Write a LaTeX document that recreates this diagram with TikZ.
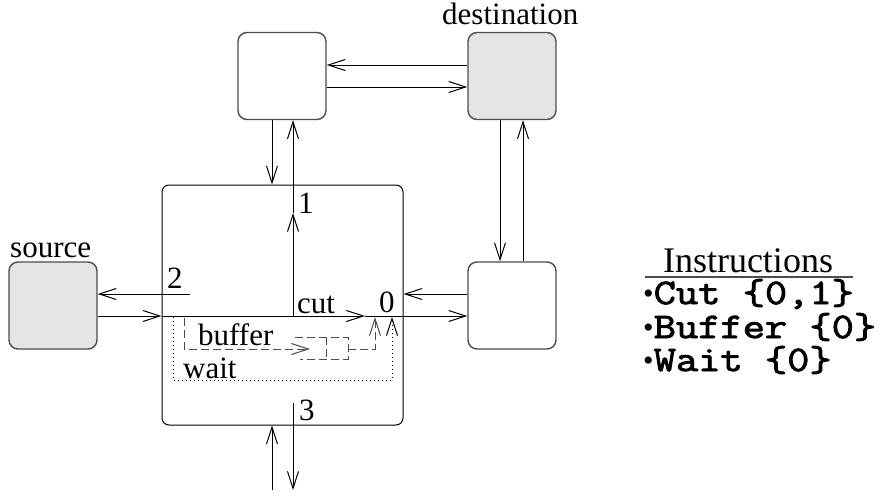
\documentclass[tikz,border=0pt]{standalone}
\usepackage{fontspec}
\setmainfont{Liberation Serif}
\newfontfamily\codefont{Latin Modern Mono}[FakeStretch=1.2, AutoFakeBold=2.5]
\usetikzlibrary{arrows.meta}

\tikzset{
  router/.style={draw=black!70, line width=1.4pt, rounded corners=9pt,
    minimum width=88pt, minimum height=87pt, inner sep=0pt},
  endpoint/.style={router, fill=black!10},
  switchbox/.style={draw=black, line width=1pt, rounded corners=7pt,
    minimum width=241pt, minimum height=240pt, inner sep=0pt},
  link/.style={line width=1pt, -{Straight Barb[length=17pt,width=11pt]}},
  bufline/.style={draw=black!70, line width=1pt, dash pattern=on 8pt off 4pt},
  waitline/.style={draw=black, line width=1pt, dash pattern=on 1pt off 3pt},
  lbl/.style={inner sep=0pt, anchor=base west,
    font=\fontsize{31}{36}\selectfont},
  code/.style={inner sep=0pt, anchor=base west, text height=22pt, text depth=5pt,
    font=\fontsize{36}{40}\selectfont\codefont\bfseries},
}
\newcommand{\listdot}{{\rmfamily\mdseries\fontsize{30}{32}\selectfont\raisebox{1pt}{•}}}

\begin{document}
\begin{tikzpicture}[x=1pt, y=-1pt]
\useasboundingbox (0,0) rectangle (881,496);

% routers and end points
\node[router]    (tl)  at (282,76)    {};
\node[endpoint]  (dst) at (512,76)    {};
\node[router]    (rt)  at (512,305.5) {};
\node[endpoint]  (src) at (53,305.5)  {};
\node[switchbox] (big) at (282.5,305) {};

\node[lbl] (srclbl) at (10,257) {source};
\node[lbl] (dstlbl) at (442,24) {destination};

% reference lines for the parallel links
\coordinate (xa) at (272,0);
\coordinate (xb) at (293,0);
\coordinate (xc) at (500,0);
\coordinate (xd) at (523,0);
\coordinate (yt1) at (0,65);
\coordinate (yt2) at (0,87);
\coordinate (yu) at (0,294);
\coordinate (yl) at (0,316);

% ports of the switch
\coordinate (p1) at (293,213);
\coordinate (pj) at (293,316);
\coordinate (p2) at (190,294);
\coordinate (p3) at (293,403);
\coordinate (b1) at (272,490);
\coordinate (b2) at (293,490);
\coordinate (cuttip) at (365,316);

% links between the routers
\draw[link] (dst.west |- yt1) -- (tl.east |- yt1);
\draw[link] (tl.east |- yt2) -- (dst.west |- yt2);
\draw[link] (dst.south -| xc) -- (rt.north -| xc);
\draw[link] (rt.north -| xd) -- (dst.south -| xd);
\draw[link] (tl.south -| xa) -- (big.north -| xa);
\draw[link] (rt.west |- yu) -- (big.east |- yu);

% port 1
\draw[link] (pj) -- (p1);
\draw[link] (p1) -- (tl.south -| xb);
\node[lbl] (l1) at (298,213) {1};

% port 2 and the source
\draw[link] (p2) -- (src.east |- yu);
\node[lbl] (l2) at (167,288) {2};
\draw[link] (src.east |- yl) -- (big.west |- yl);
\draw[link] (big.west |- yl) -- (cuttip);
\draw[link] (cuttip) -- (rt.west |- yl);

% port 3
\draw[link] (b1) -- (big.south -| b1);
\draw[link] (p3) -- (b2);
\node[lbl] (l3) at (299,420) {3};

% port 0 and the cut path
\node[lbl] (l0) at (379,312) {0};
\node[lbl] (lcut) at (297,313) {cut};

% wait path
\coordinate (w1) at (173,317);
\coordinate (w2) at (173,380);
\coordinate (w3) at (392,380);
\coordinate (w4) at (392,317);
\draw[waitline, link] (w1) -- (w2) -- (w3) -- (w4);
\node[lbl] (lwait) at (183,378) {wait};

% buffer path and queue
\coordinate (q1) at (184,318);
\coordinate (q2) at (184,349);
\coordinate (q3) at (310,349);
\draw[bufline, link] (q1) -- (q2) -- (q3);
\coordinate (qa) at (295,337);
\coordinate (qb) at (348,337);
\coordinate (qc) at (348,359);
\coordinate (qd) at (300,359);
\draw[bufline] (qa) -- (qb) -- (qc) -- (qd);
\coordinate (qm1) at (326,337);
\coordinate (qm2) at (326,359);
\draw[bufline] (qm1) -- (qm2);
\coordinate (qo) at (348,349);
\coordinate (qo2) at (375,349);
\coordinate (qo3) at (375,317);
\draw[bufline, link] (qo) -- (qo2) -- (qo3);
\node[lbl] (lbuf) at (198,345) {buffer};

% instruction list
\node[inner sep=0pt, anchor=base, font=\fontsize{36}{40}\selectfont] (ititle) at (748,272) {Instructions};
\coordinate (u1) at (645,277);
\coordinate (u2) at (853,277);
\draw[draw=black!70, line width=1.5pt] (u1) -- (u2);
\node[code] (ins1) at (643,304) {\listdot Cut \{0,1\}};
\node[code] (ins2) at (643,338) {\listdot Buffer \{0\}};
\node[code] (ins3) at (643,371) {\listdot Wait \{0\}};
\end{tikzpicture}
\end{document}
